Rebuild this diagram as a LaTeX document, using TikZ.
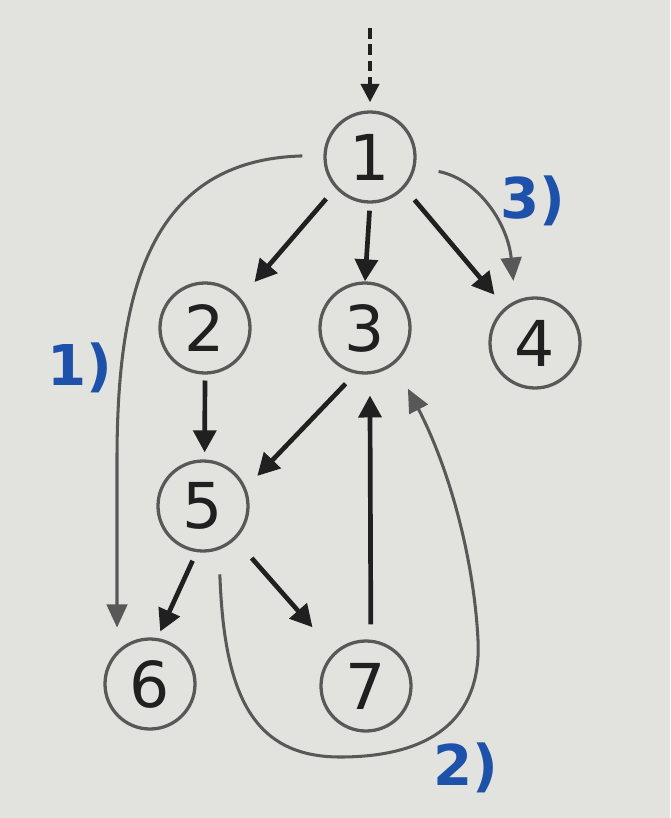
\documentclass[tikz,border=0pt]{standalone}
\usepackage{fontspec}
\setmainfont{DejaVu Sans}
\usepackage{xcolor}
\usepackage{tikz}
\usetikzlibrary{arrows.meta}
\definecolor{notepaper}{RGB}{226,227,222}
\definecolor{notegray}{RGB}{88,88,88}
\definecolor{noteink}{RGB}{32,32,32}
\definecolor{noteblue}{RGB}{30,82,170}

\begin{document}
\begin{tikzpicture}[x=0.03cm, y=-0.03cm,
  vert/.style={circle, draw=notegray, line width=2.8pt, minimum size=2.7cm, inner sep=0pt, text=noteink, font=\fontsize{54}{54}\selectfont},
  edge/.style={-{Triangle[length=0.66cm,width=0.68cm]}, line width=4pt, noteink},
  trail/.style={-{Triangle[length=0.7cm,width=0.62cm]}, line width=2.6pt, notegray},
  tag/.style={text=noteblue, font=\fontsize{48}{48}\selectfont\bfseries}]
  \fill[notepaper] (0,0) rectangle (670,818);
  \useasboundingbox (0,0) rectangle (670,818);

  % vertices
  \node[vert] (n1) at (370,157) {1};
  \node[vert] (n2) at (205,328) {2};
  \node[vert] (n3) at (365,328) {3};
  \node[vert] (n4) at (535,343) {4};
  \node[vert] (n5) at (203,506) {5};
  \node[vert] (n6) at (150,684) {6};
  \node[vert] (n7) at (366,686) {7};
  \coordinate (start) at (370,28);

  % tree edges
  \draw[-{Triangle[length=0.55cm,width=0.55cm]}, line width=3pt, noteink, dash pattern=on 9pt off 5pt, shorten >=7pt] (start) -- (n1.north);
  \draw[edge, shorten <=12pt, shorten >=18pt] (n1.222) -- (n2.40);
  \draw[edge, shorten <=6pt] (n1.270) -- (n3.90);
  \draw[edge, shorten <=13pt, shorten >=14pt] (n1.318) -- (n4.130);
  \draw[edge, shorten <=5pt, shorten >=6pt] (n2.270) -- (n5.88);
  \draw[edge, shorten <=12pt, shorten >=14pt] (n3.258) -- (n5.23);
  \draw[edge, shorten <=8pt, shorten >=6pt] (n5.262) -- (n6.81);
  \draw[edge, shorten <=21pt, shorten >=28pt] (n5.314) -- (n7.133);
  \draw[edge, shorten <=13pt, shorten >=18pt] (n7.84) -- (n3.276);

  % traversal order
  \draw[trail, shorten <=18pt, shorten >=20pt] (n1.178) .. controls (150,160) and (117,290) .. (117,460) -- (n6.north west);
  \draw[trail, shorten <=21pt, shorten >=24pt] (n5.290) .. controls (224,690) and (250,757) .. (340,757)
    .. controls (430,757) and (482,720) .. (478,640)
    .. controls (474,560) and (450,470) .. (n3.310);
  \draw[trail, shorten <=20pt, shorten >=17pt] (n1.348) .. controls (480,180) and (508,225) .. (n4.115);

  \node[tag] (t1) at (80,368) {1)};
  \node[tag] (t2) at (466,768) {2)};
  \node[tag] (t3) at (533,201) {3)};
\end{tikzpicture}
\end{document}
